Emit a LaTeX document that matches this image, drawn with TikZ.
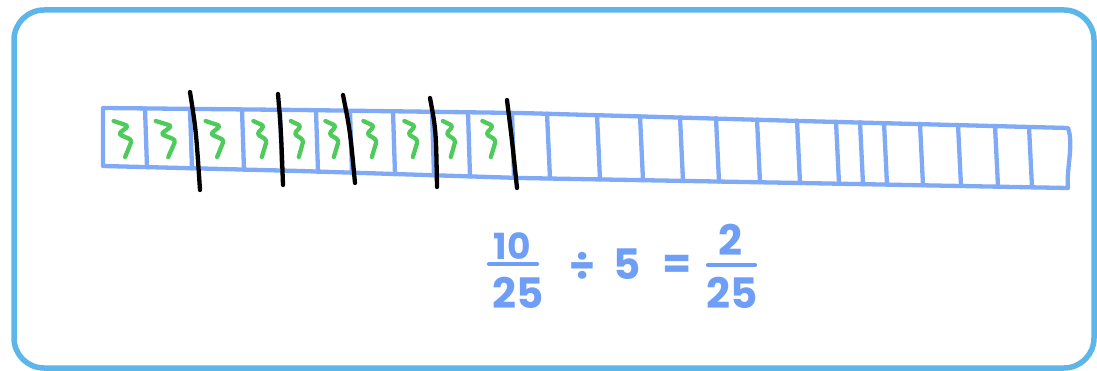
\documentclass[tikz,border=0pt]{standalone}
\usepackage{fontspec}
\setmainfont{Poppins}
\definecolor{framecol}{HTML}{5DB6EA}
\definecolor{stripcol}{HTML}{80AAF6}
\definecolor{eqcol}{HTML}{6E9EF6}
\definecolor{squigcol}{HTML}{4FCB5C}
\begin{document}
\begin{tikzpicture}[x=1pt,y=-1pt,
  framebox/.style={draw=framecol,line width=5.5pt,rounded corners=30pt},
  stripline/.style={draw=stripcol,line width=4.3pt,line cap=round,line join=round},
  cutline/.style={draw=black,line width=4.3pt,line cap=round},
  squigline/.style={draw=squigcol,line width=4.3pt,line cap=round,line join=round,rounded corners=3pt},
  eq/.style={text=eqcol,inner sep=0pt,font=\fontsize{42}{42}\selectfont\bfseries},
  eqsmall/.style={text=eqcol,inner sep=0pt,font=\fontsize{36}{36}\selectfont\bfseries},
  bar/.style={draw=eqcol,line width=4.3pt,line cap=round}]
\useasboundingbox (0,0) rectangle (1097,371);
% outer frame
\draw[framebox] (14,10) rectangle (1094,368);
% strip outline
\draw[stripline] (103,108) -- (300,110) -- (520,113) -- (800,121) -- (1068,128)
  .. controls (1074,145) and (1066,170) .. (1068,188)
  -- (800,183) -- (520,178) -- (300,171) -- (103,166) -- cycle;
% cell dividers
\foreach \x in {145,190,242,280,316,350,393,432,468,512}{
  \pgfmathsetmacro{\yt}{108+(\x-103)*5/417}
  \pgfmathsetmacro{\yb}{166+(\x-103)*12/417}
  \draw[stripline] (\x,\yt) -- (\x+2,\yb);
}
\foreach \x in {547,597,640,680,716,757,797,836,860,884,920,958,995,1029}{
  \pgfmathsetmacro{\yt}{113+(\x-520)*15/548}
  \pgfmathsetmacro{\yb}{178+(\x-520)*10/548}
  \draw[stripline] (\x,\yt) -- (\x+3,\yb);
}
% green squiggles
\foreach \cx/\sx in {124/1.15,167/1.25,216/1.15,261/0.85,298/0.8,333/0.85,371/0.85,412/0.85,450/0.8,490/0.85}{
  \draw[squigline] (\cx-9*\sx,121) -- (\cx+4*\sx,126) -- (\cx-5*\sx,134) -- (\cx+7*\sx,140) -- (\cx+1*\sx,157);
}
% black cut lines
\draw[cutline] (190,92) .. controls (196,130) .. (200,190);
\draw[cutline] (278,94) .. controls (281,130) .. (283,185);
\draw[cutline] (343,95) .. controls (350,130) .. (355,183);
\draw[cutline] (430,98) .. controls (436,130) .. (437,187);
\draw[cutline] (507,100) .. controls (512,140) .. (517,188);
% equation
\node[eqsmall] (n1) at (512,246) {10};
\draw[bar] (489,264) -- (537,264);
\node[eq] (d1) at (518,293) {25};
\node[eq] (dv) at (582,266) {÷};
\node[eq] (five) at (627,264) {5};
\node[eq] (eqs) at (677,267) {=};
\node[eq] (n2) at (730,240) {2};
\draw[bar] (708,265) -- (755,265);
\node[eq] (d2) at (732,293) {25};
\end{tikzpicture}
\end{document}
